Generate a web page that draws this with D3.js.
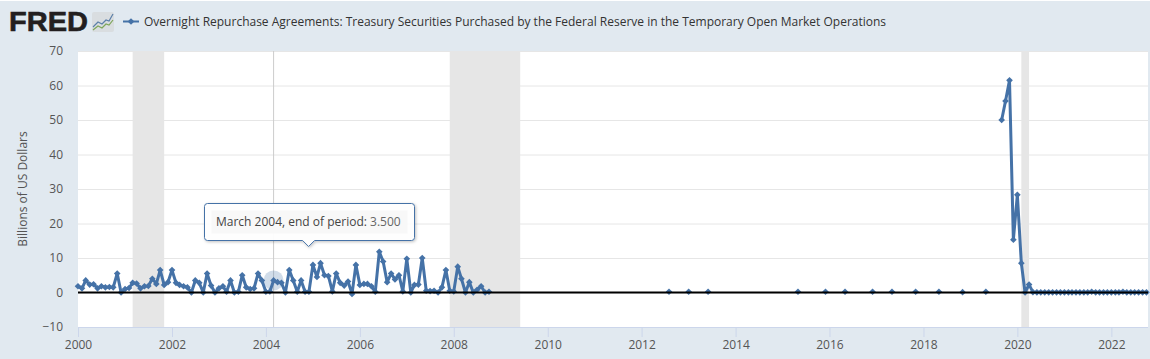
<!DOCTYPE html>
<html>
<head>
<meta charset="utf-8">
<script src="https://cdn.jsdelivr.net/npm/d3@7/dist/d3.min.js"></script>
<style>
  html, body { margin: 0; padding: 0; background: #e1e9f0; overflow: hidden; }
  text { font-family: "Open Sans", sans-serif; }
</style>
</head>
<body>
<div id="chart"></div>
<script>
// Monthly values, Jan 2000 to Oct 2008
const earlyStart = "2000-01";
const earlyValues = [
  1.8, 1.2, 3.5, 2.3, 2.4, 1.2, 1.8, 1.5, 1.6, 1.5, 5.5, 0,
  1.0, 1.3, 2.8, 2.6, 1.2, 1.8, 1.9, 4.0, 2.5, 6.5, 2.2, 3.0,
  6.5, 2.8, 2.2, 1.8, 1.5, 0, 3.5, 2.8, 0, 5.5, 2.0, 0,
  1.2, 1.8, 0.2, 3.5, 0, 0.2, 5.0, 1.5, 1.0, 1.2, 5.5, 3.5,
  0.2, 0.3, 3.5, 3.0, 2.8, 0, 6.5, 3.5, 0.2, 3.5, 0.2, 0.2,
  8.0, 4.5, 8.5, 5.0, 4.8, 0.3, 5.5, 2.8, 2.0, 3.2, -0.4, 8.0,
  2.2, 2.5, 2.5, 1.8, 0.2, 11.8, 9.0, 3.0, 5.5, 3.8, 5.0, 0.3,
  9.8, 0, 2.2, 2.3, 10.0, 0.5, 0.4, 0.5, 0, 1.5, 6.5, 0.5,
  0.3, 7.5, 4.0, 0, 3.0, 0, 0.8, 1.8, 0, 0.2
];

// Scattered single observations between 2012 and 2019
const sparseDates = ["2012-08", "2013-01", "2013-06", "2015-05", "2015-12", "2016-05",
  "2016-12", "2017-05", "2017-11", "2018-05", "2018-11", "2019-05"];
const sparseValues = [0.2, 0.2, 0.2, 0.2, 0.2, 0.2, 0.2, 0.2, 0.2, 0.2, 0.1, 0.2];

// Monthly values, Sep 2019 to Oct 2022
const lateStart = "2019-09";
const lateValues = [
  50, 55.5, 61.5, 15.3, 28.3, 8.5, 0, 2.3,
  0.1, 0.05, 0.05, 0.05, 0.05, 0.05, 0.05, 0.05,
  0.05, 0.05, 0.05, 0.05, 0.05, 0.05, 0.05, 0.2,
  0.05, 0.05, 0.05, 0.05, 0.05, 0.05, 0.05, 0.2,
  0.05, 0.05, 0.05, 0.05, 0.05, 0.05
];

const recessions = [
  ["2001-03", "2001-11"],
  ["2007-12", "2009-06"],
  ["2020-02", "2020-04"]
];

const yTicks = [-10, 0, 10, 20, 30, 40, 50, 60, 70];
const xTickYears = [2000, 2002, 2004, 2006, 2008, 2010, 2012, 2014, 2016, 2018, 2020, 2022];

const titleText = "Overnight Repurchase Agreements: Treasury Securities Purchased by the Federal Reserve in the Temporary Open Market Operations";
const yAxisTitle = "Billions of US Dollars";
const hoverDate = "2004-03";
const hoverValue = 3.5;
const hoverLabel = "March 2004, end of period: ";
const hoverValueLabel = "3.500";

const width = 1150;
const height = 359;
const margin = { top: 51, right: 2, bottom: 32, left: 78 };
const lineColor = "#4572a7";

const parseMonth = d3.utcParse("%Y-%m");

// Turn a start month and value list into dated points
function monthly(start, values) {
  const first = parseMonth(start);
  return values.map((v, i) => ({ date: d3.utcMonth.offset(first, i), value: v }));
}

const earlyData = monthly(earlyStart, earlyValues);
const lateData = monthly(lateStart, lateValues);
const sparseData = sparseDates.map((d, i) => ({ date: parseMonth(d), value: sparseValues[i] }));

const svg = d3.select("#chart")
  .append("svg")
  .attr("width", width)
  .attr("height", height)
  .style("display", "block");

const defs = svg.append("defs");

// Tooltip shadow
defs.append("filter")
  .attr("id", "tip-shadow")
  .attr("x", "-10%").attr("y", "-20%").attr("width", "120%").attr("height", "150%")
  .append("feDropShadow")
  .attr("dx", 1).attr("dy", 1).attr("stdDeviation", 1.5)
  .attr("flood-color", "#000").attr("flood-opacity", 0.25);

const x = d3.scaleUtc()
  .domain([parseMonth("2000-01"), new Date(Date.UTC(2022, 9, 13))])
  .range([margin.left, width - margin.right]);

const y = d3.scaleLinear()
  .domain([-10, 70])
  .range([height - margin.bottom, margin.top]);

// Thin light strip along the top edge of the page
svg.append("rect")
  .attr("width", width)
  .attr("height", 1)
  .attr("fill", "#fff");

// Plot background
svg.append("rect")
  .attr("x", margin.left)
  .attr("y", margin.top)
  .attr("width", width - margin.left - margin.right)
  .attr("height", height - margin.top - margin.bottom)
  .attr("fill", "#fff");

// Recession bands
svg.append("g").selectAll("rect")
  .data(recessions)
  .enter()
  .append("rect")
  .attr("x", d => x(parseMonth(d[0])))
  .attr("y", margin.top)
  .attr("width", d => x(parseMonth(d[1])) - x(parseMonth(d[0])))
  .attr("height", height - margin.top - margin.bottom)
  .attr("fill", "#e6e6e6");

// Gridlines and y axis labels
const yAxis = svg.append("g")
  .attr("transform", `translate(${margin.left},0)`)
  .call(d3.axisLeft(y)
    .tickValues(yTicks)
    .tickSize(-(width - margin.left - margin.right))
    .tickPadding(15));
yAxis.select(".domain").remove();
yAxis.selectAll(".tick line")
  .attr("stroke", "#e6e6e6")
  .attr("stroke-width", 1);
yAxis.selectAll(".tick text")
  .style("font-size", "12px")
  .style("font-family", '"Open Sans", sans-serif')
  .attr("fill", "#555");

svg.append("text")
  .attr("transform", `translate(23,${(margin.top + height - margin.bottom) / 2 + 0}) rotate(-90)`)
  .attr("text-anchor", "middle")
  .attr("dy", "0.35em")
  .style("font-size", "12px")
  .attr("fill", "#555")
  .text(yAxisTitle);

// Crosshair for the hovered point
svg.append("line")
  .attr("x1", x(parseMonth(hoverDate)))
  .attr("x2", x(parseMonth(hoverDate)))
  .attr("y1", margin.top)
  .attr("y2", height - margin.bottom)
  .attr("stroke", "#ccc")
  .attr("stroke-width", 1);

// X axis
const xAxis = svg.append("g")
  .attr("transform", `translate(0,${height - margin.bottom})`)
  .call(d3.axisBottom(x)
    .tickValues(xTickYears.map(yr => new Date(Date.UTC(yr, 0, 1))))
    .tickFormat(d3.utcFormat("%Y"))
    .tickSize(10)
    .tickPadding(3));
xAxis.select(".domain")
  .attr("stroke", "#ccd6eb")
  .attr("d", `M${margin.left},0.5H${width - margin.right}`);
xAxis.selectAll(".tick line").attr("stroke", "#ccd6eb");
xAxis.selectAll(".tick text")
  .style("font-size", "12px")
  .style("font-family", '"Open Sans", sans-serif')
  .attr("fill", "#555");

// Halo behind the hovered point
svg.append("circle")
  .attr("cx", x(parseMonth(hoverDate)))
  .attr("cy", y(hoverValue))
  .attr("r", 10)
  .attr("fill", lineColor)
  .attr("fill-opacity", 0.25);

// Series lines
const line = d3.line()
  .x(d => x(d.date))
  .y(d => y(d.value));

svg.append("g").selectAll("path")
  .data([earlyData, lateData])
  .enter()
  .append("path")
  .attr("d", line)
  .attr("fill", "none")
  .attr("stroke", lineColor)
  .attr("stroke-width", 3)
  .attr("stroke-linejoin", "round");

// Diamond markers
const diamond = d3.symbol().type(d3.symbolDiamond2).size(28);
svg.append("g").selectAll("path")
  .data(earlyData.concat(sparseData, lateData))
  .enter()
  .append("path")
  .attr("d", diamond)
  .attr("transform", d => `translate(${x(d.date)},${y(d.value)})`)
  .attr("fill", lineColor);

// Zero line sits on top of the series
svg.append("line")
  .attr("x1", margin.left)
  .attr("x2", width - margin.right)
  .attr("y1", y(0))
  .attr("y2", y(0))
  .attr("stroke", "#000")
  .attr("stroke-width", 2);

// Tooltip
const tipX = 204.5, tipY = 203.5, tipW = 210, tipH = 37;
const tipAnchor = x(parseMonth(hoverDate)) + 35;
const tip = svg.append("g");
tip.append("path")
  .attr("d", `M${tipX + 3},${tipY}H${tipX + tipW - 3}Q${tipX + tipW},${tipY} ${tipX + tipW},${tipY + 3}`
    + `V${tipY + tipH - 3}Q${tipX + tipW},${tipY + tipH} ${tipX + tipW - 3},${tipY + tipH}`
    + `H${tipAnchor + 6}L${tipAnchor},${tipY + tipH + 6}L${tipAnchor - 6},${tipY + tipH}`
    + `H${tipX + 3}Q${tipX},${tipY + tipH} ${tipX},${tipY + tipH - 3}`
    + `V${tipY + 3}Q${tipX},${tipY} ${tipX + 3},${tipY}Z`)
  .attr("fill", "#fff")
  .attr("fill-opacity", 0.95)
  .attr("stroke", lineColor)
  .attr("stroke-width", 1)
  .attr("filter", "url(#tip-shadow)");
tip.append("rect")
  .attr("x", tipX + 7).attr("y", tipY + 7)
  .attr("width", tipW - 14).attr("height", tipH - 14)
  .attr("fill", "#f8f8f8");
const tipText = tip.append("text")
  .attr("x", 216)
  .attr("y", 226)
  .style("font-size", "12px")
  .attr("fill", "#444");
tipText.append("tspan").text(hoverLabel);
tipText.append("tspan").attr("fill", "#666").text(hoverValueLabel);

// Header: logo, legend key and title
const logo = svg.append("g");
logo.append("text")
  .attr("x", 9)
  .attr("y", 31)
  .attr("textLength", 79)
  .attr("lengthAdjust", "spacingAndGlyphs")
  .style("font-family", '"Liberation Sans", sans-serif')
  .style("font-size", "28px")
  .style("font-weight", "bold")
  .attr("fill", "#231f20")
  .attr("stroke", "#231f20")
  .attr("stroke-width", 0.6)
  .text("FRED");
logo.append("rect")
  .attr("x", 92).attr("y", 12)
  .attr("width", 22).attr("height", 20)
  .attr("rx", 2)
  .attr("fill", "#d9dde0");
logo.append("path")
  .attr("d", "M93,27L98,22L102,24L106,20L109,21L113,14")
  .attr("fill", "none").attr("stroke", "#5b7fa8").attr("stroke-width", 1.2);
logo.append("path")
  .attr("d", "M93,30L98,26L102,28L106,24L109,25L113,20")
  .attr("fill", "none").attr("stroke", "#7ea65a").attr("stroke-width", 1.2);

svg.append("line")
  .attr("x1", 123).attr("x2", 139)
  .attr("y1", 21.5).attr("y2", 21.5)
  .attr("stroke", lineColor)
  .attr("stroke-width", 2);
svg.append("path")
  .attr("d", diamond)
  .attr("transform", "translate(131,21.5)")
  .attr("fill", lineColor);

svg.append("text")
  .attr("x", 144)
  .attr("y", 26)
  .style("font-size", "12px")
  .attr("fill", "#333")
  .text(titleText);
</script>
</body>
</html>
